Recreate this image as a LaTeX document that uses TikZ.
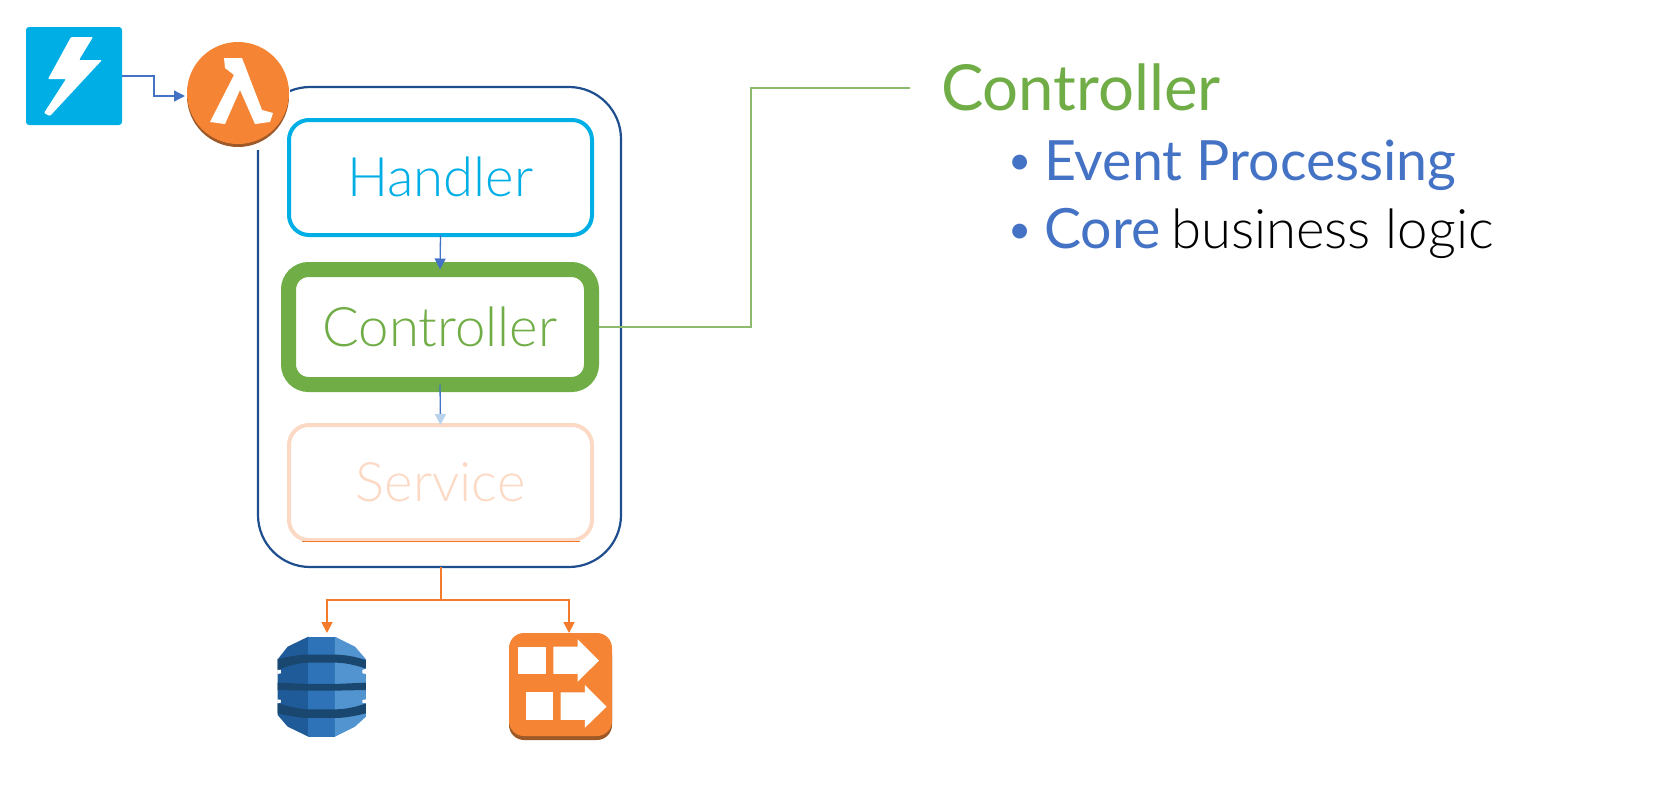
\documentclass[tikz,border=0pt]{standalone}
\usepackage{fontspec}
\setmainfont{Lato}
\newfontfamily\lightf{Lato Light}
\usetikzlibrary{arrows.meta,calc}
\definecolor{linkblue}{HTML}{4472C4}
\definecolor{paleblue}{HTML}{B9D3EC}
\definecolor{frameblue}{HTML}{1F4E8F}
\definecolor{hblue}{HTML}{00AEE6}
\definecolor{cgreen}{HTML}{70AD47}
\definecolor{lgreen}{HTML}{8DBB6E}
\definecolor{spale}{HTML}{FBD9C4}
\definecolor{orangeline}{HTML}{F47B2B}
\definecolor{iconorange}{HTML}{F58534}
\definecolor{icondark}{HTML}{9D5A28}
\definecolor{dmid}{HTML}{2E73B8}
\definecolor{dleft}{HTML}{205B99}
\definecolor{dright}{HTML}{5294CF}
\definecolor{dband}{HTML}{1A476F}
\tikzset{
  x=1pt,y=-1pt,
  boxn/.style={draw,rounded corners=20pt,minimum width=303pt,minimum height=115pt,inner sep=0pt,outer sep=0pt,line width=4pt,font=\lightf\fontsize{54.5}{54.5}\selectfont},
  flow/.style={linkblue,line width=1.3pt},
  tip/.style={-{Triangle[length=11pt,width=11pt]}},
  oflow/.style={orangeline,line width=1.8pt},
  glink/.style={lgreen,line width=1.5pt},
  sect/.style={anchor=base west,inner sep=0pt,outer sep=0pt,font=\fontsize{55.5}{55.5}\selectfont},
  dot/.style={anchor=base west,inner sep=0pt,outer sep=0pt,text=linkblue,font=\fontsize{40}{40}\selectfont},
}
\begin{document}
\begin{tikzpicture}
\useasboundingbox (0,0) rectangle (1680,798);
% frame
\node[draw=frameblue,line width=2.2pt,rounded corners=52pt,minimum width=363pt,minimum height=480pt,inner sep=0pt,outer sep=0pt] (outer) at (439.5,327) {};
\fill[white] (185,40) rectangle (290,150);
% event icon
\node[fill=hblue,rounded corners=3pt,minimum width=96pt,minimum height=98pt,inner sep=0pt,outer sep=0pt] (event) at (74,76) {};
\fill[white,rounded corners=1pt] (71,37) -- (93,37) -- (79,60) -- (102,60) -- (50,116) -- (44,113) -- (66,79) -- (48,79) -- cycle;
% lambda
\node[circle,fill=icondark,minimum size=102pt,inner sep=0pt,outer sep=2pt] (lambda) at (238,96) {};
\fill[iconorange] (238,93) circle (51);
\begin{scope}[shift={(2,0)}]
\fill[white] (222,58) -- (240,58) -- (260,110) -- (271,113) -- (268,122) -- (253,124) -- (238,90) -- (223,124) -- (208,122) -- (232,75) -- (223,68) -- cycle;
\end{scope}
% boxes
\node[boxn,draw=hblue,text=hblue] (handler) at (440.5,177.5) {\raisebox{2pt}{Handler}};
\node[boxn,draw=spale,text=spale] (service) at (440.5,482.5) {\raisebox{1pt}{Service}};
\draw[orangeline,line width=1.8pt] (302,541.5) -- (580,541.5);
\node[boxn,draw=cgreen,text=cgreen,line width=15pt] (controller) at (440,327) {\raisebox{1pt}{Controller}};
% connectors
\draw[flow,tip] (event.east) -- ++(32,0) |- (lambda.west);
\draw[flow,tip] (handler.south) -- (controller.north);
\draw[flow,-{Triangle[length=11pt,width=11pt,color=paleblue]}] (controller.south) -- (service.north);
\coordinate (stem) at ($(outer.south)+(1.5,0)$);
\coordinate (junction) at (stem |- 0,600);
\coordinate (dbin) at (327,633);
\coordinate (kin) at (569,633);
\draw[oflow] (stem) -- (junction);
\draw[oflow,tip] (junction) -| (dbin);
\draw[oflow,tip] (junction) -| (kin);
% dynamodb
\begin{scope}[shift={(240,500)},x=0.3333pt,y=-0.3333pt]
\fill[dleft] (205,410) -- (143,440) -- (113,478) -- (113,645) -- (143,680) -- (205,710) -- cycle;
\fill[dmid] (205,410) rectangle (285,710);
\fill[dright] (285,410) -- (345,440) -- (378,478) -- (378,650) -- (345,680) -- (285,710) -- cycle;
\fill[dband] (113,478) .. controls (150,468) and (180,464) .. (205,464) -- (285,464) .. controls (315,464) and (345,470) .. (378,480) -- (378,506) .. controls (345,495) and (315,488) .. (285,488) -- (205,488) .. controls (180,488) and (150,495) .. (113,510) -- cycle;
\fill[dband] (113,548) -- (205,552) -- (285,552) -- (378,548) -- (378,570) -- (285,572) -- (205,572) -- (113,570) -- cycle;
\fill[dband] (113,610) .. controls (150,620) and (180,628) .. (205,628) -- (285,628) .. controls (315,628) and (345,622) .. (378,610) -- (378,640) .. controls (345,648) and (315,654) .. (285,654) -- (205,654) .. controls (180,654) and (150,648) .. (113,640) -- cycle;
\fill[white] (112,510) -- (123,510) -- (123,520) -- (112,522) -- cycle;
\fill[white] (379,506) -- (367,510) -- (367,520) -- (379,522) -- cycle;
\fill[white] (112,598) -- (123,600) -- (123,608) -- (112,610) -- cycle;
\fill[white] (379,598) -- (367,600) -- (367,608) -- (379,610) -- cycle;
\end{scope}
% kinesis
\fill[icondark,rounded corners=15pt] (509,640) rectangle (612,740);
\fill[iconorange,rounded corners=15pt] (509,633) rectangle (612,736);
\begin{scope}[shift={(240,500)},x=0.3333pt,y=-0.3333pt]
\fill[white] (835,440) rectangle (917,522);
\fill[white] (940,440) -- (1013,440) -- (1013,418) -- (1077,482) -- (1013,545) -- (1013,522) -- (940,522) -- cycle;
\fill[white] (858,577) rectangle (940,660);
\fill[white] (962,577) -- (1035,577) -- (1035,555) -- (1100,620) -- (1035,683) -- (1035,660) -- (962,660) -- cycle;
\end{scope}
% callout
\node[sect,text=cgreen,font=\fontsize{63.5}{63.5}\selectfont] (title) at (941,110) {Controller};
\coordinate (bend) at (751,88);
\coordinate (titlein) at (910,88);
\coordinate (cout) at ($(controller.east)+(7.5,0)$);
\draw[glink] (cout) -- (bend |- cout) -- (bend) -- (titlein);
\node[dot] (b1) at (1008,174) {•};
\node[sect,text=linkblue] (t1) at (1044,180) {Event Processing};
\node[dot] (b2) at (1008,243) {•};
\node[sect,text=linkblue] (t2) at (1044,248) {Core};
\node[sect,font=\lightf\fontsize{54.5}{54.5}\selectfont] (t3) at (1171,248) {business logic};
\end{tikzpicture}
\end{document}
